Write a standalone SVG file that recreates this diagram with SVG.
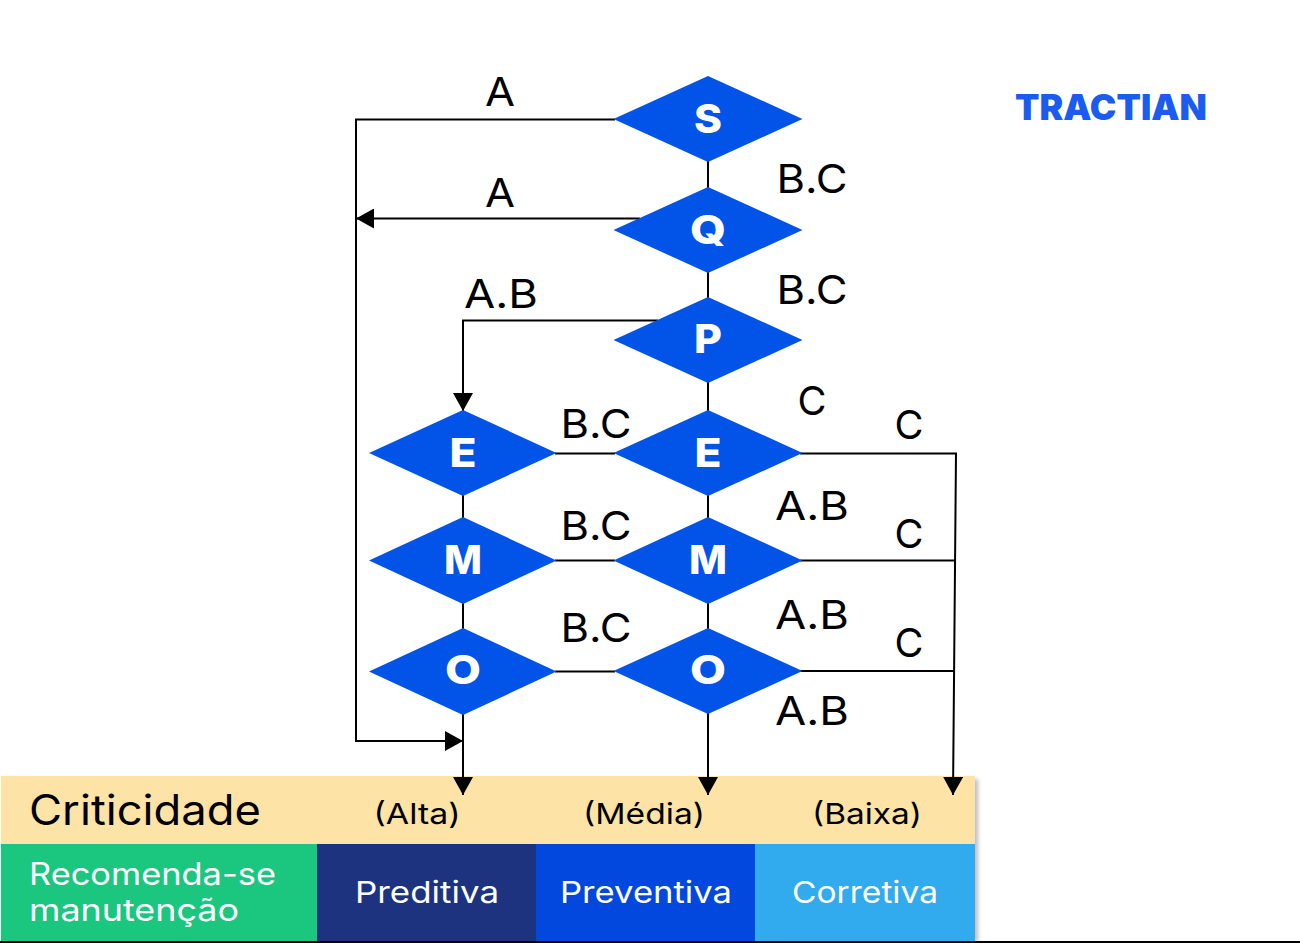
<svg xmlns="http://www.w3.org/2000/svg" width="1300" height="943" viewBox="0 0 1300 943">
<defs>
<marker id="arrow" markerUnits="userSpaceOnUse" markerWidth="20" markerHeight="20" refX="18" refY="10" orient="auto"><path d="M0,0 L18,10 L0,20 Z" fill="#000"/></marker>
<filter id="soft" x="-5%" y="-5%" width="110%" height="110%"><feGaussianBlur stdDeviation="2"/></filter>
</defs>
<style>
text{font-family:"Inter","Liberation Sans",sans-serif}
.d{fill:#0254e8}
.n{fill:#fff;font-size:40px;font-weight:800;text-anchor:middle}
.l{fill:#000;font-size:40px;text-anchor:middle;font-weight:400}
.c{fill:none;stroke:#000;stroke-width:2}
.a{marker-end:url(#arrow)}
.w{fill:#fff;font-size:30px;text-anchor:middle}
.s{fill:#000;font-size:29px;text-anchor:middle}
</style>
<rect width="1300" height="943" fill="#fff"/>
<g id="table">
<rect x="4" y="779" width="974" height="163" fill="#bbb" filter="url(#soft)"/>
<rect x="1" y="776" width="974" height="68" fill="#fde4a6"/>
<rect x="1" y="844" width="316" height="97" fill="#1bc67f"/>
<rect x="317" y="844" width="219" height="97" fill="#1d337f"/>
<rect x="536" y="844" width="219" height="97" fill="#0247de"/>
<rect x="755" y="844" width="220" height="97" fill="#31abee"/>
<line x1="0" y1="942" x2="1300" y2="942" stroke="#000" stroke-width="2"/>
<text x="29" y="825" font-size="42" fill="#000" textLength="232" lengthAdjust="spacingAndGlyphs">Criticidade</text>
<text class="s" x="417" y="824" textLength="87" lengthAdjust="spacingAndGlyphs">(Alta)</text>
<text class="s" x="644" y="824" textLength="122" lengthAdjust="spacingAndGlyphs">(Média)</text>
<text class="s" x="867" y="824" textLength="110" lengthAdjust="spacingAndGlyphs">(Baixa)</text>
<text x="29" y="885" font-size="31" fill="#fff" textLength="247" lengthAdjust="spacingAndGlyphs">Recomenda-se</text>
<text x="29" y="921" font-size="31" fill="#fff" textLength="210" lengthAdjust="spacingAndGlyphs">manutenção</text>
<text class="w" x="427" y="903" textLength="144" lengthAdjust="spacingAndGlyphs">Preditiva</text>
<text class="w" x="646" y="903" textLength="172" lengthAdjust="spacingAndGlyphs">Preventiva</text>
<text class="w" x="865" y="903" textLength="146" lengthAdjust="spacingAndGlyphs">Corretiva</text>
</g>
<g id="connectors">
<path class="c" d="M708,160V190M708,270V300M708,380V413M708,494V520M708,601V631M463,494V520M463,601V631"/>
<path class="c" d="M555,453.500H615M555,560.500H615M555,671.500H615"/>
<path class="c a" d="M615,119.500H356V741H463"/>
<path class="c a" d="M640,218.500H356"/>
<path class="c a" d="M658,320.500H463V411"/>
<path class="c a" d="M463,712V795"/>
<path class="c a" d="M708,712V795"/>
<path class="c a" d="M800,453.500H956L953,795"/>
<path class="c" d="M800,560.500H955M800,671H954"/>
</g>
<g id="node-s"><polygon class="d" points="708,76 802.500,119 708,162 613.500,119"/><text class="n" x="708" y="133" textLength="28" lengthAdjust="spacingAndGlyphs">S</text></g>
<g id="node-q"><polygon class="d" points="708,187 802.500,230 708,273 613.500,230"/><text class="n" x="708" y="244" textLength="36" lengthAdjust="spacingAndGlyphs">Q</text></g>
<g id="node-p"><polygon class="d" points="708,297 802.500,340 708,383 613.500,340"/><text class="n" x="708" y="353" textLength="28" lengthAdjust="spacingAndGlyphs">P</text></g>
<g id="node-e2"><polygon class="d" points="708,410 802.500,453 708,496 613.500,453"/><text class="n" x="708" y="467" textLength="27" lengthAdjust="spacingAndGlyphs">E</text></g>
<g id="node-m2"><polygon class="d" points="708,517 802.500,560.500 708,604 613.500,560.500"/><text class="n" x="708" y="574" textLength="38" lengthAdjust="spacingAndGlyphs">M</text></g>
<g id="node-o2"><polygon class="d" points="708,628 802.500,671 708,714 613.500,671"/><text class="n" x="708" y="684" textLength="36" lengthAdjust="spacingAndGlyphs">O</text></g>
<g id="node-e1"><polygon class="d" points="463,410 556.500,453 463,496 369,453"/><text class="n" x="463" y="467" textLength="27" lengthAdjust="spacingAndGlyphs">E</text></g>
<g id="node-m1"><polygon class="d" points="463,517 556.500,560.500 463,604 369,560.500"/><text class="n" x="463" y="574" textLength="38" lengthAdjust="spacingAndGlyphs">M</text></g>
<g id="node-o1"><polygon class="d" points="463,628 556.500,671.500 463,715 369,671.500"/><text class="n" x="463" y="684" textLength="36" lengthAdjust="spacingAndGlyphs">O</text></g>
<g id="labels">
<text class="l" x="500" y="106" textLength="30" lengthAdjust="spacingAndGlyphs">A</text>
<text class="l" x="500" y="207" textLength="30" lengthAdjust="spacingAndGlyphs">A</text>
<text class="l" x="501" y="308" textLength="74" lengthAdjust="spacingAndGlyphs">A.B</text>
<text class="l" x="812" y="193" textLength="71" lengthAdjust="spacingAndGlyphs">B.C</text>
<text class="l" x="812" y="304" textLength="71" lengthAdjust="spacingAndGlyphs">B.C</text>
<text class="l" x="812" y="415" textLength="29" lengthAdjust="spacingAndGlyphs">C</text>
<text class="l" x="909" y="439" textLength="29" lengthAdjust="spacingAndGlyphs">C</text>
<text class="l" x="909" y="548" textLength="29" lengthAdjust="spacingAndGlyphs">C</text>
<text class="l" x="909" y="657" textLength="29" lengthAdjust="spacingAndGlyphs">C</text>
<text class="l" x="596" y="438" textLength="71" lengthAdjust="spacingAndGlyphs">B.C</text>
<text class="l" x="596" y="540" textLength="71" lengthAdjust="spacingAndGlyphs">B.C</text>
<text class="l" x="596" y="642" textLength="71" lengthAdjust="spacingAndGlyphs">B.C</text>
<text class="l" x="812" y="520" textLength="74" lengthAdjust="spacingAndGlyphs">A.B</text>
<text class="l" x="812" y="629" textLength="74" lengthAdjust="spacingAndGlyphs">A.B</text>
<text class="l" x="812" y="725" textLength="74" lengthAdjust="spacingAndGlyphs">A.B</text>
</g>
<g id="logo"><text x="1015" y="120" font-size="35" font-weight="900" fill="#1a5cf0" textLength="192" lengthAdjust="spacingAndGlyphs">TRACTIAN</text></g>
</svg>
